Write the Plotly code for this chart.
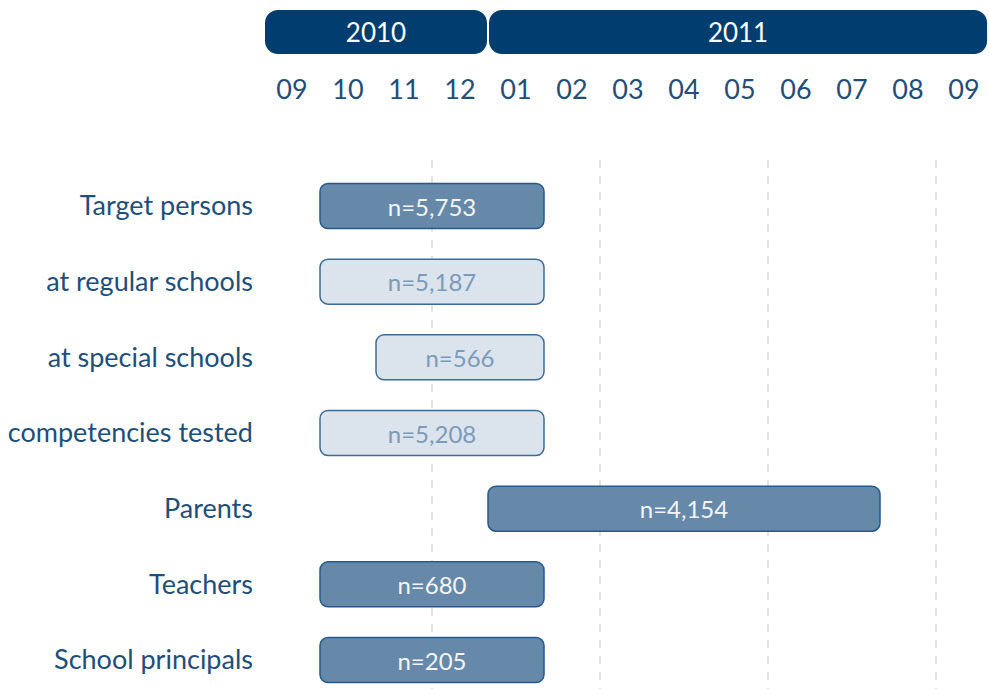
import plotly.graph_objects as go

# ---- data ----
rows = ["Target persons", "at regular schools", "at special schools",
        "competencies tested", "Parents", "Teachers", "School principals"]
# month index: 0 = Sep 2010, 1 = Oct 2010, ... 12 = Sep 2011
bar_start = [1, 1, 2, 1, 4, 1, 1]
bar_end = [5, 5, 5, 5, 11, 5, 5]
bar_labels = ["n=5,753", "n=5,187", "n=566", "n=5,208", "n=4,154", "n=680", "n=205"]
bar_kind = ["main", "sub", "sub", "sub", "main", "main", "main"]

month_labels = ["09", "10", "11", "12", "01", "02", "03", "04", "05", "06", "07", "08", "09"]
quarter_lines = [3, 6, 9, 12]

years = ["2010", "2011"]
year_start = [0, 4]
year_end = [4, 12.93]

# ---- style ----
FONT = "Lato"
TXT = "#1f4e79"
HEAD = "#013e6f"
fill = {"main": "#6689aa", "sub": "#dbe3ec"}
edge = {"main": "#275a8a", "sub": "#3e6b94"}
tcol = {"main": "#f4f4f4", "sub": "#7b9bbb"}

W, H = 989, 689
x0px, pxm = 264, 56.0
xr = [0, (W - x0px) / pxm]

fig = go.Figure()

fig.add_trace(go.Bar(
    orientation="h",
    y=list(range(len(rows))),
    base=bar_start,
    x=[e - s for s, e in zip(bar_start, bar_end)],
    width=0.595,
    text=bar_labels,
    textposition="inside",
    insidetextanchor="middle",
    constraintext="none",
    textfont=dict(family=FONT, size=24, color=[tcol[k] for k in bar_kind]),
    marker=dict(color=[fill[k] for k in bar_kind],
                line=dict(color=[edge[k] for k in bar_kind], width=1.5),
                cornerradius=8),
    hoverinfo="skip",
    xaxis="x", yaxis="y",
))

fig.add_trace(go.Bar(
    orientation="h",
    y=[0] * len(years),
    base=year_start,
    x=[e - s for s, e in zip(year_start, year_end)],
    width=1,
    text=years,
    textposition="inside",
    insidetextanchor="middle",
    constraintext="none",
    textfont=dict(family=FONT, size=26, color="white"),
    marker=dict(color=HEAD, line=dict(color="white", width=2), cornerradius=14),
    hoverinfo="skip",
    xaxis="x2", yaxis="y2",
))

top_px = 160
yr_top = -(206 - top_px) / 75.67
yr_bot = (H - 206) / 75.67

fig.update_layout(
    width=W, height=H,
    margin=dict(l=0, r=0, t=0, b=0),
    paper_bgcolor="white", plot_bgcolor="white",
    showlegend=False,
    barmode="overlay",
    font=dict(family=FONT, color=TXT),
    xaxis=dict(
        domain=[x0px / W, 1], range=xr, side="top", anchor="y",
        tickmode="array", tickvals=[i + 0.5 for i in range(len(month_labels))],
        ticktext=month_labels, tickfont=dict(family=FONT, size=27, color=TXT),
        ticks="", ticklabelstandoff=55,
        showgrid=False, zeroline=False, showline=False,
        minor=dict(tickmode="array", tickvals=quarter_lines, showgrid=True,
                   gridcolor="#e3e3e3", griddash="8px,8px", gridwidth=2, ticks=""),
        fixedrange=True,
    ),
    yaxis=dict(
        domain=[0, (H - top_px) / H], range=[yr_bot, yr_top], anchor="x",
        tickmode="array", tickvals=list(range(len(rows))), ticktext=rows,
        tickfont=dict(family=FONT, size=27, color=TXT),
        ticks="", ticklabelstandoff=10,
        showgrid=False, zeroline=False, showline=False, fixedrange=True,
    ),
    xaxis2=dict(domain=[x0px / W, 1], matches="x", anchor="y2", visible=False),
    yaxis2=dict(domain=[1 - 55 / H, 1 - 9 / H], range=[-0.5, 0.5], anchor="x2",
                visible=False, fixedrange=True),
)

fig.write_html("out.html", config={"displayModeBar": False},
               post_script="document.body.style.margin='0';document.body.style.overflow='hidden';")
